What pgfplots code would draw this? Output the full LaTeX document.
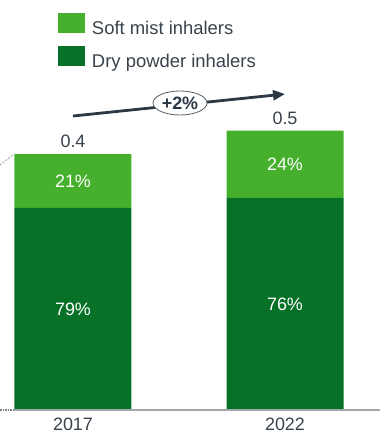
\documentclass[border=0pt]{standalone}
\usepackage{fontspec}
\setmainfont{Liberation Sans}
\usepackage{pgfplots}
\usepackage{pgfplotstable}
\pgfplotsset{compat=1.18}
\usetikzlibrary{arrows.meta,shapes.geometric}

\definecolor{smi}{HTML}{46B02D}
\definecolor{dpi}{HTML}{077127}
\definecolor{txt}{HTML}{39424B}
\definecolor{arr}{HTML}{2C3944}
\definecolor{base}{HTML}{A3A7AB}

\newcommand\lbl{\fontsize{18}{21}\selectfont}
\newcommand\leg{\fontsize{18.5}{21}\selectfont}

% Market volume (total) and inhaler shares in percent
\pgfplotstableread{
x year total dpi smi
0 2017 0.44 79 21
1 2022 0.48 76 24
}\market

\begin{document}
\begin{tikzpicture}
\begin{axis}[
  scale only axis,
  width=380bp, height=410bp,
  xmin=-0.3443, xmax=1.4481,
  ymin=0, ymax=0.7047,
  ybar stacked, bar width=117bp,
  axis line style={draw=none},
  ytick=\empty,
  xtick={0,1}, xticklabels={2017,2022},
  major tick length=0pt,
  xticklabel style={font=\lbl, text=txt, anchor=base, inner sep=0pt, yshift=-20.3bp},
  clip=false,
  reverse legend,
  legend style={at={(0.1534,0.9676)}, anchor=north west, draw=none, fill=none,
    inner sep=0pt, outer sep=0pt, row sep=8bp,
    font=\leg, text=txt,
    nodes={inner sep=0pt, text height=13bp, text depth=4bp},
    /tikz/every odd column/.append style={column sep=6.7bp}},
  legend cell align=left,
  sq legend/.style={legend image code/.code={\fill[##1] (0bp,-3.5bp) rectangle (27bp,16.5bp);}},
]
\coordinate (O) at (rel axis cs:0,0);
\coordinate (R) at (rel axis cs:1,0);
\coordinate (L) at (axis cs:-0.2783,0);
\coordinate (D1) at (axis cs:-0.3443,0.4211);
\coordinate (D2) at (axis cs:-0.2783,0.44);

\addplot[fill=dpi, draw=none, sq legend] table[x=x, y expr=\thisrow{total}*\thisrow{dpi}/100]{\market};
\addlegendentry{Dry powder inhalers}
\addplot[fill=smi, draw=none, sq legend] table[x=x, y expr=\thisrow{total}*\thisrow{smi}/100]{\market};
\addlegendentry{Soft mist inhalers}

% anchor points for the annotations
\coordinate (a79) at (axis cs:0,{0.44*0.79/2});
\coordinate (a21) at (axis cs:0,{0.44*0.79+0.44*0.21/2});
\coordinate (b76) at (axis cs:1,{0.48*0.76/2});
\coordinate (b24) at (axis cs:1,{0.48*0.76+0.48*0.24/2});
\coordinate (ta) at (axis cs:0,0.44);
\coordinate (tb) at (axis cs:1,0.48);
\coordinate (g0) at (axis cs:0,0.5053);
\coordinate (g1) at (axis cs:1,0.5431);
\coordinate (gm) at (axis cs:0.5047,0.5277);
\end{axis}

% baseline and connector stubs at the left edge
\draw[base, line width=1.4bp] (L) -- (R);
\draw[gray, line width=1.2bp, dash pattern=on 1.5bp off 1bp] (O) -- (L);
\draw[gray!80, line width=0.8bp, dash pattern=on 2bp off 1.5bp] (D1) -- (D2);

% segment shares
\node[text=white, font=\lbl] at (a79) {79\%};
\node[text=white, font=\lbl] at (a21) {21\%};
\node[text=white, font=\lbl] at (b76) {76\%};
\node[text=white, font=\lbl] at (b24) {24\%};

% totals
\node[anchor=base, yshift=6.7bp, text=txt, font=\lbl, inner sep=0pt] at (ta) {0.4};
\node[anchor=base, yshift=6.7bp, text=txt, font=\lbl, inner sep=0pt] at (tb) {0.5};

% growth arrow with CAGR bubble
\draw[arr, line width=2.8bp, -{Triangle[length=12bp,width=10bp]}] (g0) -- (g1);
\node[ellipse, draw=arr!80, line width=0.8bp, fill=white, minimum width=54bp, minimum height=24bp,
      inner sep=0pt, text=arr, font=\lbl\bfseries] at (gm) {+2\%};

\pgfresetboundingbox
\path[use as bounding box] ([yshift=-24bp]O) rectangle ([xshift=380bp,yshift=410bp]O);
\end{tikzpicture}
\end{document}
